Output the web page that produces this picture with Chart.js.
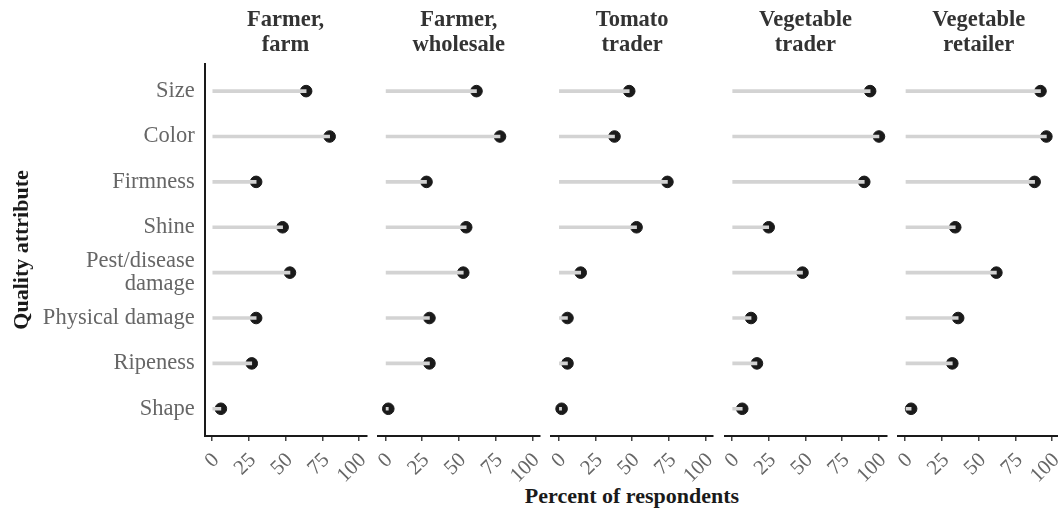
<!DOCTYPE html>
<html>
<head>
<meta charset="utf-8">
<title>Quality attributes by respondent group</title>
<script src="https://cdn.jsdelivr.net/npm/chart.js@4"></script>
<style>
  body { margin: 0; background: #fff; }
  #wrap { position: relative; width: 1058px; height: 515px; overflow: hidden; }
  #wrap canvas { position: absolute; top: 0; }
  #xTitle {
    position: absolute; left: 432px; width: 400px; top: 483px;
    text-align: center; font: bold 22px 'Liberation Serif', serif; color: #1a1a1a;
  }
</style>
</head>
<body>
<div id="wrap">
  <div id="xTitle">Percent of respondents</div>
</div>
<script>
// quality attributes, top to bottom
const attributes = ['Size', 'Color', 'Firmness', 'Shine', ['Pest/disease', 'damage'], 'Physical damage', 'Ripeness', 'Shape'];
const groups = [['Farmer,', 'farm'], ['Farmer,', 'wholesale'], ['Tomato', 'trader'], ['Vegetable', 'trader'], ['Vegetable', 'retailer']];

// percent of respondents, same order as attributes
const farmerFarm = [64, 80, 30, 48, 53, 30, 27, 6];
const farmerWholesale = [62, 78, 28, 55, 53, 30, 30, 2];
const tomatoTrader = [48, 38, 74, 53, 15, 6, 6, 2];
const vegetableTrader = [94, 100, 90, 25, 48, 13, 17, 7];
const vegetableRetailer = [92, 96, 88, 34, 62, 36, 32, 4];
const xTicks = [0, 25, 50, 75, 100];

const series = [farmerFarm, farmerWholesale, tomatoTrader, vegetableTrader, vegetableRetailer];

// panel geometry (plot area left edge and width)
const panelLeft = [204.7, 378.0, 551.3, 724.6, 897.9];
const panelWidth = 161.7;
const plotBottom = 436;
const pageHeight = 515;

Chart.defaults.font.family = "'Liberation Serif', 'Times New Roman', serif";
Chart.defaults.color = '#666';

const wrap = document.getElementById('wrap');

series.forEach((values, i) => {
  const first = i === 0;
  const canvasLeft = first ? 0 : Math.round(panelLeft[i]) - 20;
  const canvasWidth = first ? 386 : 202;
  const padLeft = first ? 0 : panelLeft[i] - canvasLeft;
  const padRight = canvasWidth - (panelLeft[i] + panelWidth - canvasLeft);

  const canvas = document.createElement('canvas');
  canvas.width = canvasWidth;
  canvas.height = pageHeight;
  canvas.style.left = canvasLeft + 'px';
  wrap.appendChild(canvas);

  const points = values.map((v, k) => ({ x: v, y: k + 1 }));

  new Chart(canvas.getContext('2d'), {
    type: 'bar',
    data: {
      datasets: [
        {
          label: 'segment',
          data: points,
          backgroundColor: '#d3d3d3',
          barThickness: 3,
          order: 0,
        },
        {
          type: 'line',
          label: 'value',
          data: points,
          showLine: false,
          pointRadius: 5.8,
          pointBackgroundColor: '#1a1a1a',
          pointBorderColor: '#1a1a1a',
          pointBorderWidth: 1,
          order: 1,
        },
      ],
    },
    options: {
      indexAxis: 'y',
      responsive: false,
      animation: false,
      devicePixelRatio: 1,
      layout: { padding: { left: padLeft, right: padRight, top: 0, bottom: 0 } },
      plugins: {
        legend: { display: false },
        tooltip: { enabled: false },
        title: {
          display: true,
          fullSize: false,
          text: groups[i],
          color: '#333',
          font: { size: 22.5, weight: 'bold', lineHeight: 1.12 },
          padding: { top: 7.5, bottom: 6 },
        },
      },
      scales: {
        x: {
          type: 'linear',
          min: -5,
          max: 105,
          afterBuildTicks: (scale) => {
            scale.ticks = xTicks.map((v) => ({ value: v }));
          },
          afterFit: (scale) => {
            scale.height = pageHeight - plotBottom;
          },
          ticks: {
            autoSkip: false,
            minRotation: 45,
            maxRotation: 45,
            padding: 7,
            labelOffset: 4,
            color: '#666',
            font: { size: 21 },
          },
          grid: {
            drawOnChartArea: false,
            drawTicks: true,
            tickLength: 5,
            color: '#444',
            lineWidth: 1.5,
          },
          border: { display: true, color: '#1a1a1a', width: 2 },
        },
        y: {
          type: 'linear',
          display: first,
          reverse: true,
          offset: false,
          min: 0.4,
          max: attributes.length + 0.6,
          afterBuildTicks: (scale) => {
            scale.ticks = attributes.map((a, k) => ({ value: k + 1 }));
          },
          afterFit: (scale) => {
            if (first) scale.width = panelLeft[0];
          },
          ticks: {
            autoSkip: false,
            padding: 10,
            color: '#666',
            font: { size: 22.5, lineHeight: 1.05 },
            callback: (v) => attributes[v - 1],
          },
          grid: { display: false, drawTicks: false, offset: false },
          border: { display: true, color: '#1a1a1a', width: 2 },
          title: {
            display: true,
            text: 'Quality attribute',
            color: '#1a1a1a',
            font: { size: 22, weight: 'bold', lineHeight: 1.2 },
            padding: { top: 8.8, bottom: 0 },
          },
        },
      },
    },
  });
});
</script>
</body>
</html>
